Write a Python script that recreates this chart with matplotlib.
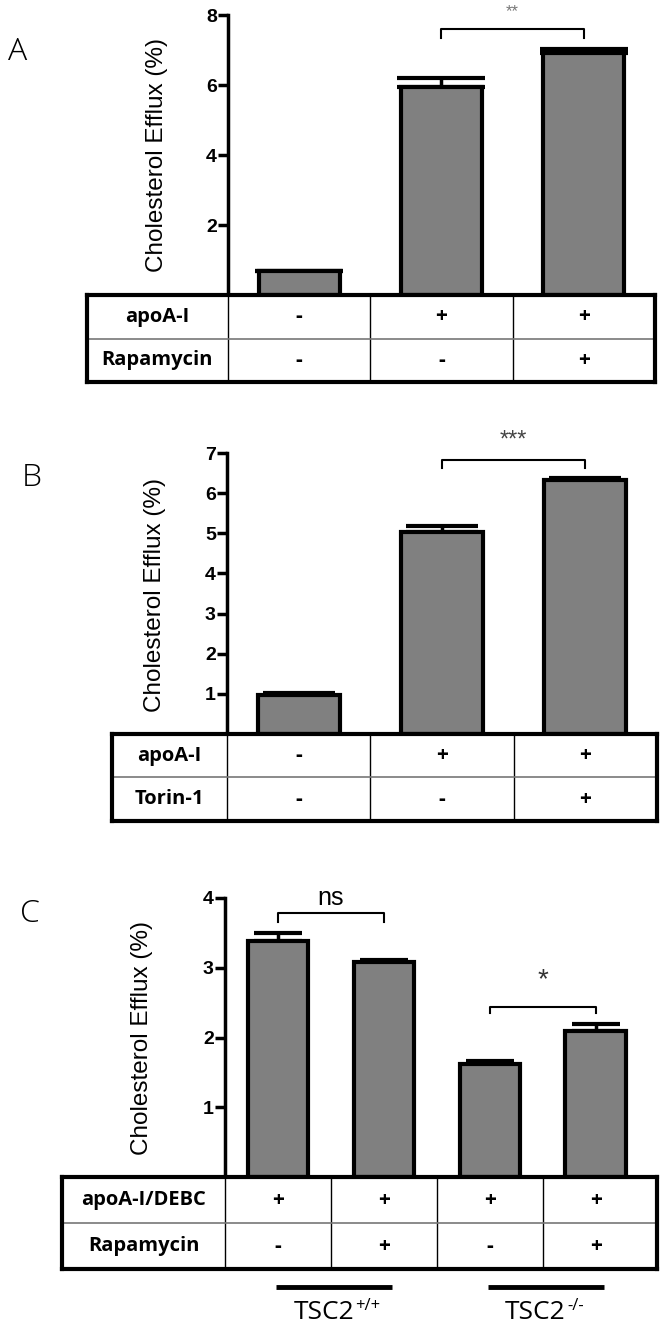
import numpy as np
import matplotlib
matplotlib.use('Agg')
import matplotlib.pyplot as plt

plt.rcParams['font.family'] = ['Liberation Sans', 'DejaVu Sans']

W, H = 664, 1325

# Panel A - apoA-I +/- rapamycin
a_means = [0.70, 5.94, 6.91]
a_errs = [0.0, 0.26, 0.12]
a_rows = ['apoA-I', 'Rapamycin']
a_cells = [['-', '+', '+'], ['-', '-', '+']]
a_yticks = [2, 4, 6, 8]

# Panel B - apoA-I +/- Torin-1
b_means = [0.98, 5.04, 6.33]
b_errs = [0.03, 0.14, 0.04]
b_rows = ['apoA-I', 'Torin-1']
b_cells = [['-', '+', '+'], ['-', '-', '+']]
b_yticks = [1, 2, 3, 4, 5, 6, 7]

# Panel C - TSC2 cells
c_means = [3.38, 3.08, 1.62, 2.09]
c_errs = [0.12, 0.03, 0.05, 0.11]
c_rows = ['apoA-I/DEBC', 'Rapamycin']
c_cells = [['+', '+', '+', '+'], ['-', '+', '-', '+']]
c_yticks = [1, 2, 3, 4]
c_groups = ['TSC2', 'TSC2']
c_group_sups = ['+/+', '-/-']
c_group_spans = [(0, 1), (2, 3)]

fig = plt.figure(figsize=(W / 100, H / 100), dpi=100)


def px_axes(l, t, r, b):
    return fig.add_axes([l / W, 1 - b / H, (r - l) / W, (b - t) / H])


def fig_text(x, y, s, **kw):
    return fig.text(x / W, 1 - y / H, s, **kw)


def draw_panel(box, tbox, xmax, ymax, yticks, means, errs, capsize,
               rows, cells, comps):
    ax = px_axes(*box)
    x = np.arange(len(means))
    ax.bar(x, means, width=0.57, color='#808080', edgecolor='black',
           linewidth=3, zorder=2)
    ax.errorbar(x, means, yerr=[np.zeros(len(errs)), errs], fmt='none',
                ecolor='black', elinewidth=2.5, capsize=capsize, capthick=3,
                zorder=1)
    ax.set_xlim(-0.5, xmax)
    ax.set_ylim(0, ymax)
    ax.set_xticks([])
    ax.set_yticks(yticks)
    ax.set_yticklabels([str(t) for t in yticks], fontsize=14,
                       fontweight='bold')
    ax.tick_params(axis='y', direction='out', length=7, width=2.5, pad=1)
    for s in ['top', 'right', 'bottom']:
        ax.spines[s].set_visible(False)
    ax.spines['left'].set_linewidth(2.5)
    ax.patch.set_alpha(0)

    # significance brackets + stars
    for i, j, y, drop, ty, label, fs, col in comps:
        ax.plot([i, i, j, j], [y - drop, y, y, y - drop], color='black',
                lw=1.5, clip_on=False)
        ax.text((i + j) / 2, ty, label, ha='center', va='center',
                fontsize=fs, color=col, clip_on=False)

    # condition table under the bars
    ppu = (box[2] - box[0]) / (xmax + 0.5)
    t_left = -0.5 - (box[0] - tbox[0]) / ppu
    t_right = -0.5 + (tbox[2] - box[0]) / ppu
    tx = px_axes(*tbox)
    tx.set_xlim(t_left, t_right)
    tx.set_ylim(2, 0)
    tx.set_xticks([])
    tx.set_yticks([])
    for s in tx.spines.values():
        s.set_linewidth(3)
    for k in range(len(means)):
        tx.axvline(k - 0.5, color='black', lw=1)
    tx.axhline(1, color='#777777', lw=1.2)
    for r, name in enumerate(rows):
        tx.text((t_left - 0.5) / 2, r + 0.5, name, ha='center', va='center',
                fontsize=14.5, fontweight='bold', family='Open Sans')
        for k, val in enumerate(cells[r]):
            tx.text(k, r + 0.5, val, ha='center', va='center', fontsize=15,
                    fontweight='bold', family='Open Sans')
    return ax


ax_a = draw_panel((228, 15, 655, 295), (87, 295, 655, 382), 2.5, 8, a_yticks,
                  a_means, a_errs, 32, a_rows, a_cells,
                  [(1, 2, 7.6, 0.26, 8.11, '**', 12, '#777777')])

ax_b = draw_panel((227, 453, 657, 734), (112, 734, 657, 821), 2.5, 7, b_yticks,
                  b_means, b_errs, 26, b_rows, b_cells,
                  [(1, 2, 6.83, 0.2, 7.3, '***', 17, '#444444')])

ax_c = draw_panel((225, 898, 657, 1177), (62, 1177, 657, 1269), 3.58, 4, c_yticks,
                  c_means, c_errs, 17, c_rows, c_cells,
                  [(0, 1, 3.78, 0.12, 4.0, 'ns', 18, 'black'),
                   (2, 3, 2.44, 0.09, 2.82, '*', 20, '#333333')])

# genotype bars under panel C table
for (i, j), name, sup in zip(c_group_spans, c_groups, c_group_sups):
    ax_c.plot([i - 0.02, j + 0.08], [-1.58, -1.58], color='black', lw=3.5,
              clip_on=False, solid_capstyle='butt')
    mid = (i + j) / 2 + 0.22
    ax_c.text(mid, -2.04, name, ha='right', va='baseline', fontsize=19,
              family='Open Sans', clip_on=False)
    ax_c.text(mid + 0.01, -1.9, sup, ha='left', va='baseline', fontsize=12,
              family='Open Sans', clip_on=False)

# y axis labels and panel letters
for (xp, yp) in [(157, 155), (155, 595), (142, 1038)]:
    fig_text(xp, yp, 'Cholesterol Efflux (%)', rotation=90, ha='center',
             va='center', fontsize=17.5)
for (xp, yp), letter in zip([(18, 52), (32, 478), (30, 914)], ['A', 'B', 'C']):
    fig_text(xp, yp, letter, ha='center', va='center', fontsize=23,
             family='Open Sans', fontweight='light')

fig.savefig('out.png', dpi=100)
